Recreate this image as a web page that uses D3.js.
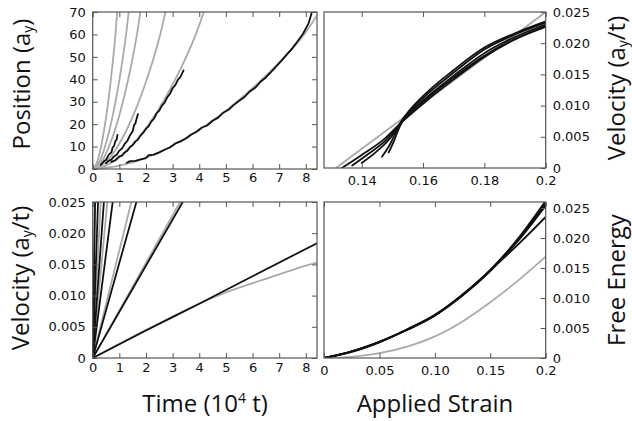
<!DOCTYPE html>
<html>
<head>
<meta charset="utf-8">
<script src="https://cdn.jsdelivr.net/npm/d3@7"></script>
<style>
  html, body { margin: 0; padding: 0; background: #fff; }
  svg { display: block; }
  .tick text { font-family: "DejaVu Sans", Verdana, sans-serif; font-size: 13px; fill: #111; }
  .title { font-family: "Open Sans", "Noto Sans", sans-serif; font-size: 24px; fill: #111; }
</style>
</head>
<body>
<svg id="chart" width="632" height="421"></svg>
<script>
// ---------------- Data ----------------
// Top-left: Position (a_y) vs Time (10^4 t)
const posTicksX = [0, 1, 2, 3, 4, 5, 6, 7, 8];
const posTicksY = [0, 10, 20, 30, 40, 50, 60, 70];
const posGray1 = [[0,0],[0.108,1.5],[0.215,5],[0.323,10.5],[0.43,17.5],[0.538,26],[0.646,36],[0.753,47.5],[0.861,61],[0.92,70]];
const posGray2 = [[0,0],[0.158,1.5],[0.316,5],[0.474,10.5],[0.632,17.5],[0.79,26],[0.948,36],[1.106,47.5],[1.264,61],[1.35,70]];
const posGray3 = [[0,0],[0.209,1.5],[0.419,5],[0.628,10.5],[0.838,17.5],[1.047,26],[1.257,36],[1.466,47.5],[1.675,61],[1.79,70]];
const posGray4 = [[0,0],[0.319,1.5],[0.639,5],[0.958,10.5],[1.278,17.5],[1.597,26],[1.916,36],[2.236,47.5],[2.555,61],[2.73,70]];
const posGray5 = [[0,0],[0.488,1.5],[0.976,5],[1.464,10.5],[1.952,17.5],[2.44,26],[2.927,36],[3.415,47.5],[3.903,61],[4.17,70]];
const posGray6 = [[0,0],[1,1.5],[2,5],[3,10.5],[4,17.5],[5,26],[6,36],[7,47.5],[8,61],[8.42,68.5]];
const posBlack1 = [[0.3,1.8],[0.4,3.2],[0.5,4.1],[0.6,6.3],[0.7,7.4],[0.75,9.6],[0.8,10.2],[0.85,12.4],[0.9,13.1],[0.93,15.2]];
const posBlack2 = [[0.5,2.5],[0.6,3.6],[0.7,4.2],[0.8,5.6],[0.9,6.4],[1.0,8.2],[1.1,9.1],[1.2,11.2],[1.3,12.6],[1.4,15.0],[1.5,16.8],[1.55,19.5],[1.6,20.2],[1.65,22.5],[1.7,24.5]];
const posBlack3 = [[0.7,3.2],[0.85,3.9],[1.0,5.6],[1.1,6.0],[1.2,7.4],[1.3,8.1],[1.4,9.8],[1.5,10.6],[1.6,12.2],[1.7,13.1],[1.8,15.0],[1.9,16.2],[2.0,17.9],[2.1,19.0],[2.2,21.1],[2.3,22.4],[2.4,24.8],[2.5,26.0],[2.6,28.3],[2.7,29.6],[2.8,32.0],[2.9,33.5],[3.0,36.0],[3.1,37.4],[3.2,39.8],[3.3,41.2],[3.41,44]];
const posBlack4 = [[1.28,2.8],[1.4,3.5],[1.6,3.6],[1.8,4.3],[2.0,4.9],[2.1,6.2],[2.3,6.4],[2.5,7.4],[2.7,8.6],[2.9,9.6],[3.1,11.4],[3.3,12.3],[3.5,13.6],[3.7,15.4],[3.9,16.6],[4.1,18.5],[4.3,19.4],[4.5,21.5],[4.7,22.8],[4.9,25.1],[5.1,26.4],[5.3,28.6],[5.5,30.4],[5.7,32.1],[5.9,34.6],[6.1,36.2],[6.3,38.9],[6.5,40.8],[6.7,43.3],[6.9,45.9],[7.1,48.4],[7.3,51.2],[7.5,53.9],[7.7,57.1],[7.9,60.4],[8.1,64.8],[8.23,70]];

// Bottom-left: Velocity (a_y/t) vs Time (10^4 t)
const velTicksY = [0, 0.005, 0.010, 0.015, 0.020, 0.025];
const velTimeBlack1 = [[0,0],[0.09,0.025]];
const velTimeBlack2 = [[0,0],[0.2,0.025]];
const velTimeBlack3 = [[0,0],[0.42,0.025]];
const velTimeBlack4 = [[0,0],[0.75,0.025]];
const velTimeBlack5 = [[0,0],[1.64,0.025]];
const velTimeBlack6 = [[0,0],[3.38,0.025]];
const velTimeBlack7 = [[0,0],[2,0.0044],[4,0.0087],[6,0.0131],[8.42,0.0184]];
const velTimeGray1 = [[0,0],[0.07,0.025]];
const velTimeGray2 = [[0,0],[0.3,0.025]];
const velTimeGray3 = [[0,0],[0.55,0.025]];
const velTimeGray4 = [[0,0],[1.45,0.025]];
const velTimeGray5 = [[0,0],[3.28,0.025]];
const velTimeGray6 = [[0,0],[2,0.0045],[4,0.0087],[5,0.0105],[6,0.0120],[7,0.0134],[8,0.0148],[8.42,0.0153]];

// Top-right: Velocity (a_y/t) vs Applied Strain
const strainTicksTR = [0.14, 0.16, 0.18, 0.2];
const strainTickLabelsTR = ["0.14", "0.16", "0.18", "0.2"];
const velStrainGray = [[0.1316,0],[0.2,0.025]];
const velStrainBlack1 = [[0.1335,0],[0.14,0.0021],[0.147,0.0045],[0.1527,0.0072],[0.16,0.0103],[0.17,0.0142],[0.18,0.0178],[0.19,0.0206],[0.2,0.0226]];
const velStrainBlack2 = [[0.1369,0.0004],[0.142,0.0022],[0.148,0.0045],[0.1527,0.0072],[0.16,0.0108],[0.17,0.0148],[0.18,0.0184],[0.19,0.0210],[0.2,0.0230]];
const velStrainBlack3 = [[0.1400,0.0008],[0.145,0.0027],[0.1500,0.0052],[0.1527,0.0073],[0.16,0.0112],[0.17,0.0153],[0.18,0.0190],[0.19,0.0214],[0.2,0.0233]];
const velStrainBlack4 = [[0.1466,0.0018],[0.149,0.0036],[0.151,0.0056],[0.1527,0.0073],[0.16,0.0106],[0.17,0.0145],[0.18,0.0180],[0.19,0.0207],[0.2,0.0228]];
const velStrainBlack5 = [[0.1488,0.0025],[0.1505,0.0043],[0.152,0.0062],[0.1535,0.0077],[0.16,0.0115],[0.17,0.0157],[0.18,0.0193],[0.19,0.0216],[0.2,0.0235]];

// Bottom-right: Free Energy vs Applied Strain
const strainTicksBR = [0, 0.05, 0.10, 0.15, 0.2];
const strainTickLabelsBR = ["0", "0.05", "0.10", "0.15", "0.2"];
const energyBlack1 = [[0,0],[0.025,0.0011],[0.05,0.0027],[0.075,0.0047],[0.1,0.0071],[0.125,0.0105],[0.15,0.0146],[0.175,0.0197],[0.2,0.0258]];
const energyBlack2 = [[0,0],[0.025,0.0011],[0.05,0.0027],[0.075,0.0048],[0.1,0.0072],[0.125,0.0106],[0.15,0.0147],[0.175,0.0199],[0.2,0.0262]];
const energyBlack3 = [[0,0],[0.025,0.0010],[0.05,0.0026],[0.075,0.0047],[0.1,0.0071],[0.125,0.0104],[0.15,0.0145],[0.175,0.0195],[0.2,0.0254]];
const energyBlack4 = [[0,0],[0.025,0.0011],[0.05,0.0027],[0.075,0.0047],[0.1,0.0071],[0.125,0.0105],[0.15,0.0146],[0.175,0.0189],[0.2,0.0235]];
const energyGray = [[0,0],[0.025,0.0002],[0.05,0.0008],[0.075,0.0019],[0.1,0.0036],[0.125,0.0061],[0.15,0.0093],[0.175,0.0129],[0.2,0.0169]];

// ---------------- Drawing ----------------
const svg = d3.select("#chart");
const GRAY = "#aaaaaa", BLACK = "#111111", FRAME = "#555555";

function panel(id, box, xDom, yDom) {
  const x = d3.scaleLinear().domain(xDom).range([box.l, box.r]);
  const y = d3.scaleLinear().domain(yDom).range([box.b, box.t]);
  svg.append("clipPath").attr("id", id).append("rect")
    .attr("x", box.l).attr("y", box.t).attr("width", box.r - box.l).attr("height", box.b - box.t);
  const g = svg.append("g");
  const plot = g.append("g").attr("clip-path", `url(#${id})`);
  return {x, y, g, plot, box};
}

function drawSeries(p, series, color, width, curve) {
  const line = d3.line().x(d => p.x(d[0])).y(d => p.y(d[1])).curve(curve);
  series.forEach(s => {
    p.plot.append("path").attr("d", line(s)).attr("fill", "none")
      .attr("stroke", color).attr("stroke-width", width)
      .attr("stroke-linejoin", "round").attr("stroke-linecap", "round");
  });
}
const lines = (p, s, c, w) => drawSeries(p, s, c, w, d3.curveMonotoneX);
const jagged = (p, s, c, w) => drawSeries(p, s, c, w, d3.curveLinear);

function axes(p, opt) {
  const b = p.box, T = 5;
  const style = sel => {
    sel.select(".domain").remove();
    sel.selectAll(".tick line").attr("stroke", FRAME).attr("stroke-width", 1);
  };
  const bx = d3.axisBottom(p.x).tickValues(opt.xt).tickSizeInner(-T).tickSizeOuter(0).tickPadding(opt.xpad)
    .tickFormat((d, i) => opt.xl[i]);
  p.g.append("g").attr("transform", `translate(0,${b.b})`).call(bx).call(style);
  const tx = d3.axisTop(p.x).tickValues(opt.xt).tickSizeInner(-T).tickSizeOuter(0).tickFormat("");
  p.g.append("g").attr("transform", `translate(0,${b.t})`).call(tx).call(style);
  if (opt.side === "left") {
    const ly = d3.axisLeft(p.y).tickValues(opt.yt).tickSizeInner(-T).tickSizeOuter(0).tickPadding(7)
      .tickFormat((d, i) => opt.yl[i]);
    p.g.append("g").attr("transform", `translate(${b.l},0)`).call(ly).call(style);
    const ry = d3.axisRight(p.y).tickValues(opt.yt).tickSizeInner(-T).tickSizeOuter(0).tickFormat("");
    p.g.append("g").attr("transform", `translate(${b.r},0)`).call(ry).call(style);
  } else {
    const ry = d3.axisRight(p.y).tickValues(opt.yt).tickSizeInner(-T).tickSizeOuter(0).tickPadding(7)
      .tickFormat((d, i) => opt.yl[i]);
    p.g.append("g").attr("transform", `translate(${b.r},0)`).call(ry).call(style);
  }
  p.g.append("rect").attr("x", b.l).attr("y", b.t).attr("width", b.r - b.l).attr("height", b.b - b.t)
    .attr("fill", "none").attr("stroke", FRAME).attr("stroke-width", 1.2);
}

const velLabels = ["0", "0.005", "0.010", "0.015", "0.020", "0.025"];

// Top-left
const tl = panel("cTL", {l: 92.7, r: 317, t: 12, b: 169}, [0, 8.42], [0, 70]);
lines(tl, [posGray1, posGray2, posGray3, posGray4, posGray5, posGray6], GRAY, 1.8);
jagged(tl, [posBlack1, posBlack2, posBlack3, posBlack4], BLACK, 1.8);
axes(tl, {xt: posTicksX, xl: posTicksX.map(String), xpad: 4, yt: posTicksY, yl: posTicksY.map(String), side: "left"});

// Bottom-left
const bl = panel("cBL", {l: 92.7, r: 317, t: 202, b: 358}, [0, 8.42], [0, 0.025]);
lines(bl, [velTimeGray1, velTimeGray2, velTimeGray3, velTimeGray4, velTimeGray5, velTimeGray6], GRAY, 1.8);
lines(bl, [velTimeBlack1, velTimeBlack2, velTimeBlack3, velTimeBlack4, velTimeBlack5, velTimeBlack6, velTimeBlack7], BLACK, 1.8);
axes(bl, {xt: posTicksX, xl: posTicksX.map(String), xpad: 5, yt: velTicksY, yl: velLabels, side: "left"});

// Top-right
const tr = panel("cTR", {l: 324, r: 545.7, t: 12, b: 168}, [0.1277, 0.2], [0, 0.025]);
lines(tr, [velStrainGray], GRAY, 1.8);
lines(tr, [velStrainBlack1, velStrainBlack2, velStrainBlack3, velStrainBlack4, velStrainBlack5], BLACK, 1.8);
axes(tr, {xt: strainTicksTR, xl: strainTickLabelsTR, xpad: 8, yt: velTicksY, yl: velLabels, side: "right"});

// Bottom-right
const br = panel("cBR", {l: 324, r: 545.7, t: 202, b: 358}, [0, 0.2], [0, 0.026]);
lines(br, [energyGray], GRAY, 1.8);
lines(br, [energyBlack1, energyBlack2, energyBlack3, energyBlack4], BLACK, 1.8);
axes(br, {xt: strainTicksBR, xl: strainTickLabelsBR, xpad: 8, yt: velTicksY, yl: velLabels, side: "right"});

// ---------------- Titles ----------------
function vTitle(x, y, parts) {
  const t = svg.append("text").attr("class", "title")
    .attr("transform", `translate(${x},${y}) rotate(-90)`).attr("text-anchor", "middle");
  parts.forEach(p => {
    const s = t.append("tspan").text(p.text);
    if (p.sub) s.attr("font-size", "14px").attr("dy", 3);
    if (p.back) s.attr("dy", -3);
  });
}
vTitle(30, 84, [{text: "Position (a"}, {text: "y", sub: true}, {text: ")", back: true}]);
vTitle(29, 278, [{text: "Velocity (a"}, {text: "y", sub: true}, {text: "/t)", back: true}]);
vTitle(625, 88, [{text: "Velocity (a"}, {text: "y", sub: true}, {text: "/t)", back: true}]);
vTitle(625, 280, [{text: "Free Energy"}]);

const tt = svg.append("text").attr("class", "title").attr("x", 205).attr("y", 412).attr("text-anchor", "middle");
tt.append("tspan").text("Time (10");
tt.append("tspan").text("4").attr("font-size", "14px").attr("dy", -9);
tt.append("tspan").text(" t)").attr("dy", 9);
svg.append("text").attr("class", "title").attr("x", 435).attr("y", 412).attr("text-anchor", "middle").text("Applied Strain");
</script>
</body>
</html>
